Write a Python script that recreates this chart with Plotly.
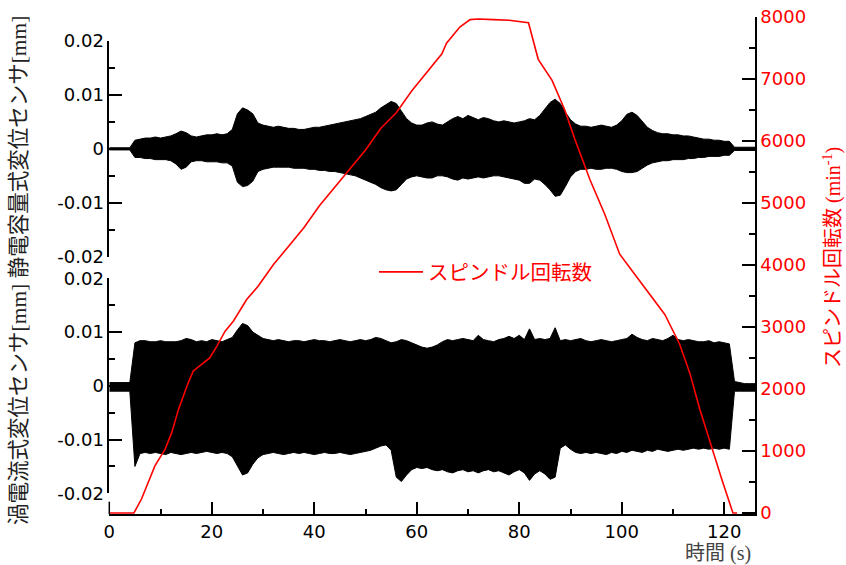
import plotly.graph_objects as go

# ---------------- data ----------------
# time samples (s) at which the vibration envelopes were read
TIME_S = list(range(0, 127))

# capacitive sensor (top panel) envelope, micrometres
TOP_UPPER_UM = [
    0.2, 0.2, 0.2, 0.2, 0.2,
    1.6, 1.8, 2.0, 2.0, 2.2, 2.0, 2.2, 2.4, 2.8, 3.3,
    3.0, 2.4, 2.2, 2.4, 2.6, 2.6, 2.8, 2.6, 2.8, 3.6,
    6.5, 7.6, 7.2, 6.5, 4.8, 4.4, 4.2, 4.0, 4.2, 4.0,
    3.8, 3.8, 3.6, 3.6, 3.8, 4.0, 4.0, 4.2, 4.4, 4.6,
    4.8, 5.0, 5.2, 5.4, 5.6, 6.0, 6.4, 6.8, 7.6, 8.2,
    8.8, 8.4, 7.0, 5.6, 4.8, 4.4, 4.4, 4.8, 5.0, 4.6,
    4.4, 5.0, 5.6, 6.0, 5.6, 6.2, 5.8, 5.4, 5.8, 5.6,
    5.2, 5.0, 5.2, 5.0, 4.8, 5.0, 5.2, 5.6, 5.4, 6.2,
    7.4, 8.6, 9.2, 8.4, 6.8, 5.4, 4.6, 4.2, 4.2, 4.0,
    4.2, 4.4, 4.2, 4.0, 4.4, 5.2, 6.4, 6.8, 6.2, 5.0,
    4.0, 3.4, 3.0, 2.8, 2.8, 2.6, 2.6, 2.4, 2.4, 2.2,
    2.0, 1.8, 1.8, 1.6, 1.6, 1.4, 1.4,
    0.3, 0.3, 0.3, 0.3, 0.3,
]
TOP_LOWER_UM = [
    -0.2, -0.2, -0.2, -0.2, -0.2,
    -1.6, -1.6, -1.8, -1.8, -2.0, -2.0, -2.0, -2.2, -2.8, -3.8,
    -3.4, -2.4, -2.2, -2.2, -2.4, -2.4, -2.4, -2.6, -2.6, -3.2,
    -6.2, -7.0, -6.8, -6.0, -4.2, -3.8, -3.6, -3.4, -3.4, -3.4,
    -3.4, -3.6, -3.6, -3.6, -3.8, -3.8, -4.0, -4.0, -4.2, -4.2,
    -4.4, -4.6, -4.8, -5.0, -5.4, -5.8, -6.2, -6.6, -7.2, -7.6,
    -7.8, -7.6, -6.6, -5.6, -5.2, -5.0, -5.2, -5.4, -5.4, -5.0,
    -5.0, -5.2, -5.6, -5.8, -5.4, -5.6, -5.4, -5.2, -5.4, -5.2,
    -5.0, -5.0, -5.2, -5.4, -5.6, -5.8, -6.4, -6.4, -5.6, -5.8,
    -6.6, -7.6, -8.8, -8.6, -7.0, -5.2, -4.2, -3.8, -3.8, -3.6,
    -3.8, -3.8, -3.6, -3.6, -3.8, -4.2, -4.4, -4.4, -4.2, -3.6,
    -3.0, -2.6, -2.4, -2.2, -2.2, -2.0, -2.0, -2.0, -1.8, -1.8,
    -1.6, -1.6, -1.4, -1.4, -1.4, -1.2, -1.2,
    -0.3, -0.3, -0.3, -0.3, -0.3,
]

# eddy-current sensor (bottom panel) envelope, micrometres
BOT_UPPER_UM = [
    0.6, 0.6, 0.6, 0.6, 0.6,
    8.0, 8.4, 8.4, 8.2, 8.2, 8.4, 8.2, 8.2, 8.2, 8.4,
    8.8, 8.6, 8.2, 8.4, 8.2, 8.6, 8.4, 8.2, 8.6, 9.0,
    10.4, 11.6, 11.2, 10.0, 9.4, 8.8, 8.6, 8.4, 8.6, 8.4,
    8.2, 8.4, 8.4, 8.2, 8.4, 8.6, 8.4, 8.4, 8.2, 8.4,
    8.6, 8.4, 8.2, 8.4, 8.6, 8.4, 8.6, 9.0, 8.8, 8.4,
    8.0, 8.2, 8.6, 8.4, 8.0, 7.6, 7.2, 7.0, 7.2, 7.6,
    8.2, 8.6, 8.4, 8.6, 8.8, 8.6, 8.4, 9.4, 8.6, 8.4,
    8.2, 8.6, 8.8, 9.2, 8.8, 9.4, 8.6, 10.6, 8.6, 8.8,
    8.6, 8.8, 10.8, 8.4, 8.6, 8.4, 8.6, 8.8, 8.4, 8.2,
    8.4, 8.6, 8.4, 8.2, 8.4, 8.6, 8.8, 9.6, 9.0, 8.6,
    8.4, 8.8, 8.6, 8.4, 8.8, 9.4, 8.6, 8.4, 8.6, 8.4,
    8.2, 8.2, 8.4, 8.0, 8.2, 8.0, 7.8,
    0.8, 0.6, 0.4, 0.4, 0.4,
]
BOT_LOWER_UM = [
    -1.0, -1.0, -1.0, -1.0, -1.0,
    -15.0, -12.6, -12.4, -12.6, -12.4, -12.6, -12.8, -12.4, -12.6, -12.8,
    -12.6, -12.4, -12.6, -12.4, -12.2, -12.4, -12.6, -12.4, -12.6, -13.2,
    -15.0, -16.6, -16.2, -14.6, -13.4, -12.8, -12.6, -12.4, -12.6, -12.8,
    -12.6, -12.4, -12.6, -12.4, -12.6, -12.8, -12.6, -12.4, -12.6, -12.6,
    -12.4, -12.6, -12.8, -12.6, -12.4, -12.2, -12.0, -11.6, -11.2, -11.0,
    -12.0, -17.0, -17.8, -16.6, -15.6, -15.2, -15.4, -15.2, -15.6, -15.8,
    -15.6, -16.0, -16.2, -15.8, -15.6, -16.0, -15.8, -16.2, -15.8, -15.6,
    -16.0, -15.8, -16.2, -16.6, -16.0, -15.6, -16.2, -17.6, -16.4, -15.8,
    -16.4, -17.4, -17.0, -11.6, -11.0, -11.8, -12.4, -12.6, -12.4, -12.6,
    -12.4, -12.6, -12.8, -12.4, -12.6, -12.2, -12.4, -12.0, -12.2, -12.4,
    -12.0, -12.2, -11.8, -12.0, -12.2, -12.0, -11.8, -12.0, -11.8, -11.6,
    -11.8, -11.6, -11.8, -11.6, -11.8, -11.6, -11.8,
    -1.0, -1.0, -1.0, -1.0, -1.0,
]

# spindle speed (min^-1) vs time (s)
SPEED_T = [0, 4.8, 6.3, 8.9, 10.9, 12.2, 13.5, 14.4, 15.4, 16.4, 17.7, 19.6,
           21.0, 22.6, 24.2, 26.8, 29, 32, 35, 38, 41, 44, 47, 50, 53, 56, 59,
           62, 64.9, 65.8, 67.1, 68.4, 70.4, 72, 75, 78, 81.8, 83.7, 86.4,
           88.9, 90.9, 93.8, 96.7, 99.6, 102.6, 105.5, 108.4, 111.3, 113.3,
           115.2, 117.6, 119.5, 121.7, 122.5]
SPEED_RPM = [0, 0, 230, 760, 1030, 1300, 1670, 1890, 2100, 2290, 2370, 2500,
             2690, 2930, 3090, 3440, 3650, 4000, 4300, 4600, 4950, 5250, 5550,
             5850, 6200, 6450, 6800, 7100, 7400, 7570, 7700, 7830, 7950, 7960,
             7950, 7940, 7900, 7310, 6970, 6490, 6010, 5370, 4810, 4170, 3840,
             3520, 3200, 2720, 2250, 1680, 1030, 550, 0, 0]

X_TICKS = [0, 20, 40, 60, 80, 100, 120]
Y_TICKS = [-0.02, -0.01, 0, 0.01, 0.02]
Y_TICK_LABELS = ["-0.02", "-0.01", "0", "0.01", "0.02"]
RPM_TICKS = [0, 1000, 2000, 3000, 4000, 5000, 6000, 7000, 8000]

# ---------------- figure ----------------
W, H = 846, 565
def px_x(p):
    return p / W
def px_y(p):
    return 1 - p / H

top_upper = [v / 1000 for v in TOP_UPPER_UM]
top_lower = [v / 1000 for v in TOP_LOWER_UM]
bot_upper = [v / 1000 for v in BOT_UPPER_UM]
bot_lower = [v / 1000 for v in BOT_LOWER_UM]

fig = go.Figure()
fig.add_trace(go.Scatter(x=TIME_S, y=top_lower, mode="lines",
                         line=dict(color="black", width=1),
                         xaxis="x", yaxis="y", showlegend=False, hoverinfo="skip"))
fig.add_trace(go.Scatter(x=TIME_S, y=top_upper, mode="lines",
                         line=dict(color="black", width=1), fill="tonexty",
                         fillcolor="black", xaxis="x", yaxis="y",
                         showlegend=False, hoverinfo="skip"))
fig.add_trace(go.Scatter(x=TIME_S, y=bot_lower, mode="lines",
                         line=dict(color="black", width=1),
                         xaxis="x", yaxis="y2", showlegend=False, hoverinfo="skip"))
fig.add_trace(go.Scatter(x=TIME_S, y=bot_upper, mode="lines",
                         line=dict(color="black", width=1), fill="tonexty",
                         fillcolor="black", xaxis="x", yaxis="y2",
                         showlegend=False, hoverinfo="skip"))
fig.add_trace(go.Scatter(x=SPEED_T, y=SPEED_RPM, mode="lines",
                         line=dict(color="#ff0000", width=1.6),
                         name="スピンドル回転数", xaxis="x", yaxis="y3"))

TICKFONT = dict(family="DejaVu Sans", size=18, color="black")
CJK = "Liberation Serif, Noto Sans CJK JP"
axis_common = dict(showline=True, linecolor="black", linewidth=1.5,
                   ticks="inside", ticklen=13, tickwidth=1.5, tickcolor="black",
                   showgrid=False, zeroline=False, automargin=False)

fig.update_layout(
    width=W, height=H,
    margin=dict(l=0, r=0, t=0, b=0, autoexpand=False),
    paper_bgcolor="white", plot_bgcolor="rgba(0,0,0,0)",
    xaxis=dict(domain=[px_x(109.3), px_x(755)], range=[0, 126], anchor="y3",
               tickmode="array", tickvals=X_TICKS, tickfont=TICKFONT,
               minor=dict(ticks="inside", ticklen=6, tickwidth=1.5,
                          tickcolor="black", dtick=10, tick0=0),
               layer="below traces", **axis_common),
    yaxis=dict(domain=[px_y(256.7), px_y(41)], range=[-0.02, 0.02], anchor="x",
               tickmode="array", tickvals=Y_TICKS, ticktext=Y_TICK_LABELS,
               tickfont=TICKFONT,
               minor=dict(ticks="inside", ticklen=6, tickwidth=1.5,
                          tickcolor="black", dtick=0.005, tick0=0),
               **axis_common),
    yaxis2=dict(domain=[px_y(493.3), px_y(278.3)], range=[-0.02, 0.02], anchor="x",
                tickmode="array", tickvals=Y_TICKS, ticktext=Y_TICK_LABELS,
                tickfont=TICKFONT,
                minor=dict(ticks="inside", ticklen=6, tickwidth=1.5,
                           tickcolor="black", dtick=0.005, tick0=0),
                **axis_common),
    yaxis3=dict(domain=[px_y(514.3), px_y(16.5)], range=[-20, 8000], anchor="x",
                side="right", tickmode="array", tickvals=RPM_TICKS,
                tickfont=dict(family="DejaVu Sans", size=18, color="#ff0000"),
                minor=dict(ticks="inside", ticklen=6, tickwidth=1.5,
                           tickcolor="black", dtick=500, tick0=0),
                **axis_common),
    showlegend=True,
    legend=dict(x=px_x(374), y=px_y(272), xanchor="left", yanchor="middle",
                itemwidth=44, bgcolor="rgba(0,0,0,0)", borderwidth=0,
                font=dict(family=CJK, size=20.5, color="#ff0000")),
)

# short left axis segment below the lower panel
fig.add_shape(type="line", xref="paper", yref="paper",
              x0=px_x(109.3), x1=px_x(109.3), y0=px_y(501.7), y1=px_y(514.3),
              line=dict(color="black", width=1.5))

fig.add_annotation(text="渦電流式変位センサ[mm] 静電容量式変位センサ[mm]",
                   xref="paper", yref="paper", x=px_x(19), y=px_y(271),
                   xanchor="center", yanchor="middle", textangle=-90,
                   showarrow=False, font=dict(family=CJK, size=21.5, color="#222"))
fig.add_annotation(text="スピンドル回転数 (min<sup>-1</sup>)",
                   xref="paper", yref="paper", x=px_x(832), y=px_y(258),
                   xanchor="center", yanchor="middle", textangle=-90,
                   showarrow=False, font=dict(family=CJK, size=20, color="#ff0000"))
fig.add_annotation(text="時間 (s)", xref="paper", yref="paper",
                   x=px_x(753), y=px_y(553), xanchor="right", yanchor="middle",
                   showarrow=False, font=dict(family=CJK, size=20, color="#444"))

fig.write_html("out.html", config={"displayModeBar": False},
               post_script="document.body.style.margin='0';document.body.style.overflow='hidden';")
